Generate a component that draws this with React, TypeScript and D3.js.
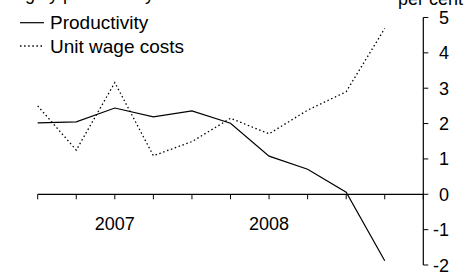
import React from "react";
import * as d3 from "d3";

const quarters = ["2007Q1","2007Q2","2007Q3","2007Q4","2008Q1","2008Q2","2008Q3","2008Q4","2009Q1","2009Q2"];
const productivity = [2.02, 2.05, 2.44, 2.19, 2.36, 2.01, 1.08, 0.71, 0.06, -1.88];
const unitWageCosts = [2.5, 1.25, 3.16, 1.09, 1.49, 2.15, 1.71, 2.38, 2.9, 4.69];
const yTicks = [5, 4, 3, 2, 1, 0, -1, -2];
const yearLabels = [{ label: "2007", pos: 2 }, { label: "2008", pos: 6 }];
const xTickCount = 11;

const W = 468, H = 273;
const FONT = "'Liberation Sans', Arial, sans-serif";

export default function App() {
  const x = d3.scaleLinear().domain([0, xTickCount - 1]).range([37.7, 423.3]);
  const y = d3.scaleLinear().domain([-2, 5]).range([265, 17.5]);
  const line = d3.line<number>().x((_, i) => x(i)).y((d) => y(d));
  const axisX = x(xTickCount - 1);
  const ticksX = d3.range(xTickCount);

  return (
    <svg width={W} height={H} style={{ position: "absolute", left: 0, top: 0, background: "#fff" }} fontFamily={FONT}>
      <rect width={W} height={H} fill="#fff" />
      <text x={8} y={0} fontSize={18} fill="#000">Highly productivity</text>
      <text x={463} y={5} fontSize={18} fill="#000" textAnchor="end">per cent</text>

      {/* zero line with ticks */}
      <line x1={x(0)} x2={axisX} y1={y(0)} y2={y(0)} stroke="#000" strokeWidth={1.2} />
      {ticksX.map((t) => (
        <line key={t} x1={x(t)} x2={x(t)} y1={y(0)} y2={y(0) + 5} stroke="#000" strokeWidth={1} />
      ))}
      {yearLabels.map((yl) => (
        <text key={yl.label} x={x(yl.pos)} y={230} fontSize={18} textAnchor="middle" fill="#000">{yl.label}</text>
      ))}

      {/* right axis */}
      <line x1={axisX} x2={axisX} y1={y(5)} y2={y(-2)} stroke="#000" strokeWidth={1.2} />
      {yTicks.map((t) => (
        <g key={t}>
          <line x1={axisX} x2={axisX + 5} y1={y(t)} y2={y(t)} stroke="#000" strokeWidth={1} />
          <text x={449} y={y(t) + 6.5} fontSize={18} textAnchor="end" fill="#000">{t}</text>
        </g>
      ))}

      {/* series */}
      <path d={line(unitWageCosts) || ""} fill="none" stroke="#000" strokeWidth={1.3} strokeDasharray="1.5 2.6" />
      <path d={line(productivity) || ""} fill="none" stroke="#000" strokeWidth={1.2} />

      {/* legend */}
      <line x1={20} x2={44} y1={22.7} y2={22.7} stroke="#000" strokeWidth={1.2} />
      <text x={50} y={28.7} fontSize={19} fill="#000">Productivity</text>
      <line x1={20} x2={44} y1={46} y2={46} stroke="#000" strokeWidth={1.3} strokeDasharray="1.5 2.6" />
      <text x={50} y={52.5} fontSize={19} fill="#000">Unit wage costs</text>
    </svg>
  );
}
